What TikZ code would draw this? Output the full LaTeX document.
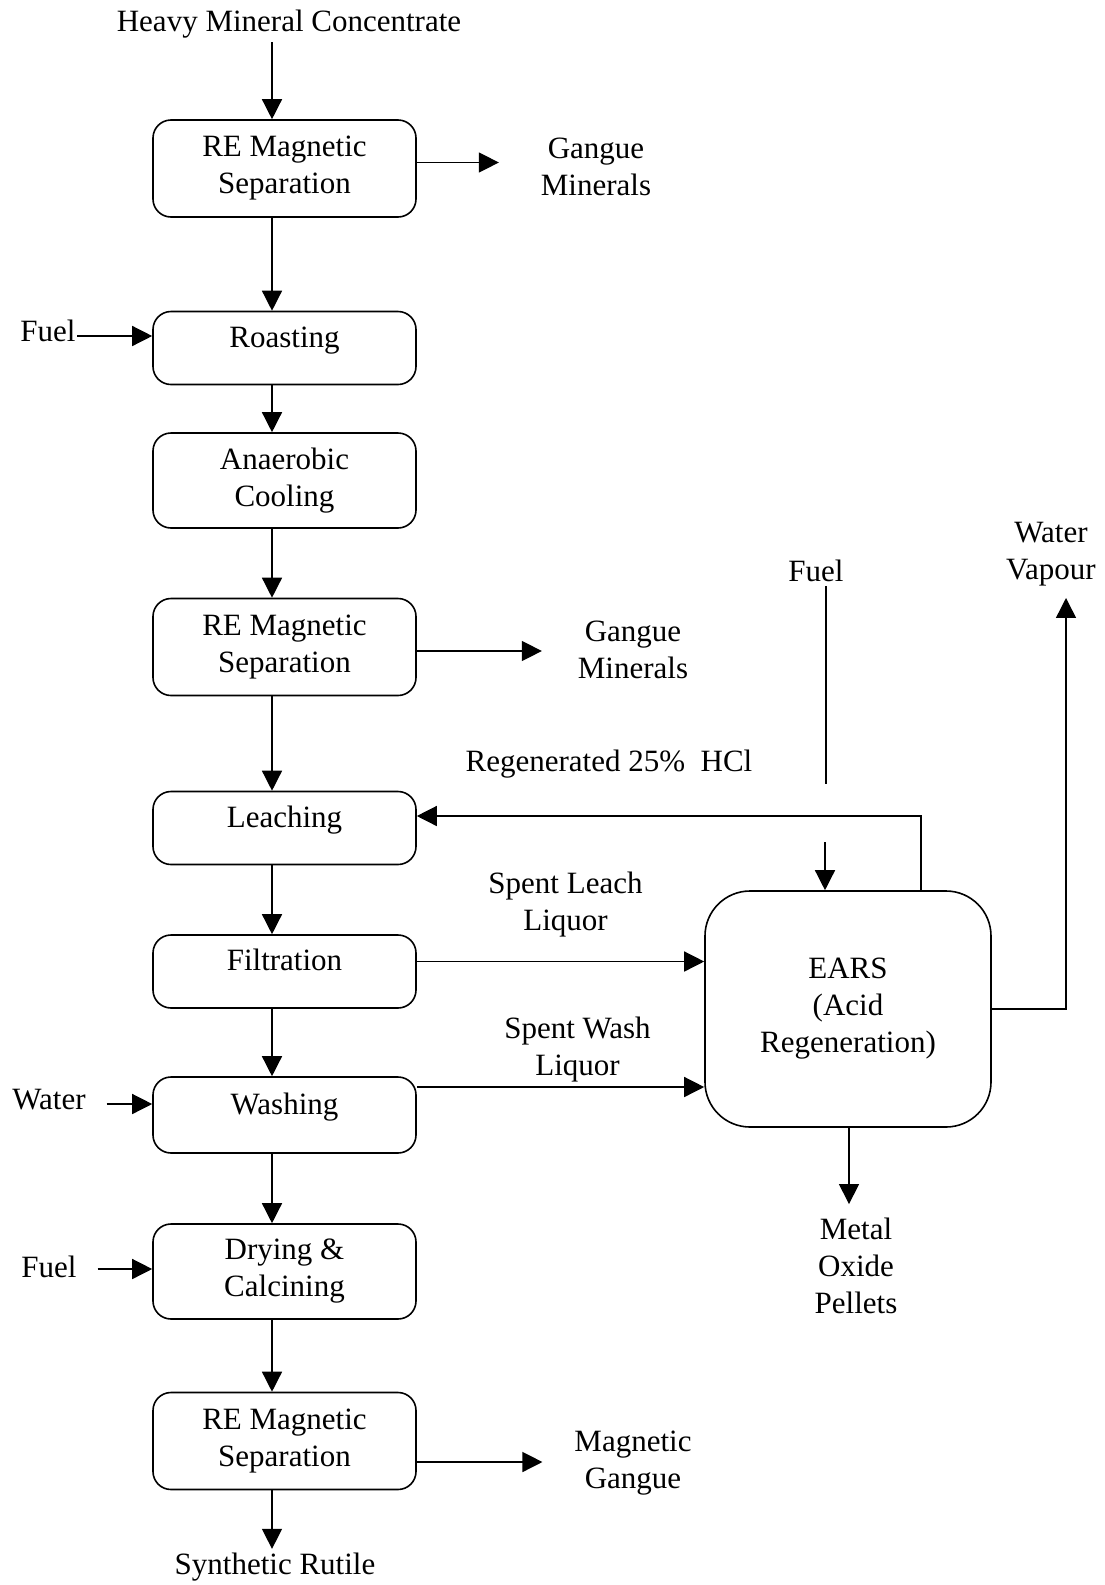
\documentclass[tikz,border=0pt]{standalone}
\usepackage{fontspec}
\setmainfont{Liberation Serif}
\usetikzlibrary{arrows.meta,positioning}
\tikzstyle{unit}=[draw, rounded corners=18pt, line width=1.6pt, minimum width=263pt, inner sep=0pt, align=center]
\tikzstyle{tall}=[unit, minimum height=97pt]
\tikzstyle{short}=[unit, minimum height=73pt, text height=22pt, text depth=24pt]
\tikzstyle{stream}=[align=center]
\tikzstyle{flow}=[-{Triangle[length=20pt,width=20pt]}, line width=1.4pt]

\begin{document}
\begin{tikzpicture}[x=1pt, y=1pt, line width=1.4pt, font=\fontsize{31pt}{37pt}\selectfont]
    \useasboundingbox (0,0) rectangle (1105,-1585);
    \coordinate (spine) at (272,0);
    %
    \node (mag1) [tall] at (284.5,-168.5) {RE Magnetic\\Separation};
    \node (roast) [short, below of=mag1, node distance=179.5pt] {Roasting};
    \node (cool) [tall, minimum height=95pt, below of=roast, node distance=132.5pt] {Anaerobic\\Cooling};
    \node (mag2) [tall, below of=cool, node distance=166.5pt] {RE Magnetic\\Separation};
    \node (leach) [short, below of=mag2, node distance=181pt] {Leaching};
    \node (filter) [short, below of=leach, node distance=143.5pt] {Filtration};
    \node (wash) [short, minimum height=76pt, below of=filter, node distance=143.5pt] {Washing};
    \node (dry) [tall, minimum height=95pt, below of=wash, node distance=156.5pt] {Drying \&\\Calcining};
    \node (mag3) [tall, below of=dry, node distance=169.5pt] {RE Magnetic\\Separation};
    \node (ears) [unit, rounded corners=45pt, minimum width=286pt, minimum height=236pt] at (848,-1009) {EARS\\(Acid\\Regeneration)};
    %
    \node (feed) [stream] at (289,-24) {Heavy Mineral Concentrate};
    \node (gangue1) [stream] at (596,-167) {Gangue\\Minerals};
    \node (fuel1) [stream, inner xsep=1pt] at (48,-331) {Fuel};
    \node (gangue2) [stream] at (633,-650) {Gangue\\Minerals};
    \node (fuel3) [stream] at (816,-571) {Fuel};
    \node (vapour) [stream] at (1051,-554) {Water\\Vapour};
    \node (hcl) [stream] at (609,-764) {Regenerated 25\%~ HCl};
    \node (water) [stream] at (49,-1100) {Water};
    \node (fuel2) [stream] at (49,-1267) {Fuel};
    \node (pellets) [stream] at (856,-1266) {Metal\\Oxide\\Pellets};
    \node (mgangue) [stream] at (633,-1463) {Magnetic\\Gangue};
    \node (rutile) [stream] at (275,-1567) {Synthetic Rutile};
    %
    \draw [flow] (feed.south -| spine) -- (mag1.north -| spine);
    \draw [flow] (mag1.south -| spine) -- (roast.north -| spine);
    \draw [flow] (roast.south -| spine) -- (cool.north -| spine);
    \draw [flow] (cool.south -| spine) -- (mag2.north -| spine);
    \draw [flow] (mag2.south -| spine) -- (leach.north -| spine);
    \draw [flow] (leach.south -| spine) -- (filter.north -| spine);
    \draw [flow] (filter.south -| spine) -- (wash.north -| spine);
    \draw [flow] (wash.south -| spine) -- (dry.north -| spine);
    \draw [flow] (dry.south -| spine) -- (mag3.north -| spine);
    \draw [flow] (mag3.south -| spine) -- (rutile.north -| spine);
    %
    \draw [flow, shorten >=38pt] ([yshift=6pt]mag1.east) -- ([yshift=6pt]mag1.east -| gangue1.west);
    \draw [flow, shorten >=32pt] ([yshift=-4pt]mag2.east) -- ([yshift=-4pt]mag2.east -| gangue2.west);
    \draw [flow, shorten >=28pt] ([yshift=-21pt]mag3.east) -- ([yshift=-21pt]mag3.east -| mgangue.west);
    \draw [flow] ([yshift=-5pt]fuel1.east) -- ([yshift=-5pt]fuel1.east -| roast.west);
    \draw [flow, shorten <=17pt] ([yshift=-4pt]water.east) -- ([yshift=-4pt]water.east -| wash.west);
    \draw [flow, shorten <=17pt] ([yshift=-2pt]fuel2.east) -- ([yshift=-2pt]fuel2.east -| dry.west);
    %
    \draw [flow] ([yshift=10pt]filter.east) -- ([yshift=10pt]filter.east -| ears.west)
        node[midway, above, align=center, xshift=5pt, yshift=20pt] (leachliq) {Spent Leach\\Liquor};
    \draw [flow] ([yshift=28pt]wash.east) -- ([yshift=28pt]wash.east -| ears.west)
        node[midway, above, align=center, xshift=17pt, yshift=1pt] (washliq) {Spent Wash\\Liquor};
    \draw [flow] ([xshift=73pt]ears.north) |- ([yshift=12pt]leach.east);
    \draw ([xshift=10pt]fuel3.south) -- ++(0,-198pt);
    \draw [flow] ([xshift=-23pt]ears.north) ++(0,48pt) -- ([xshift=-23pt]ears.north);
    \draw [flow, shorten >=8pt] (ears.east) -| ([xshift=15pt]vapour.south);
    \draw [flow, shorten >=10pt] ([xshift=1pt]ears.south) -- ([xshift=1pt]ears.south |- pellets.north);
\end{tikzpicture}
\end{document}
